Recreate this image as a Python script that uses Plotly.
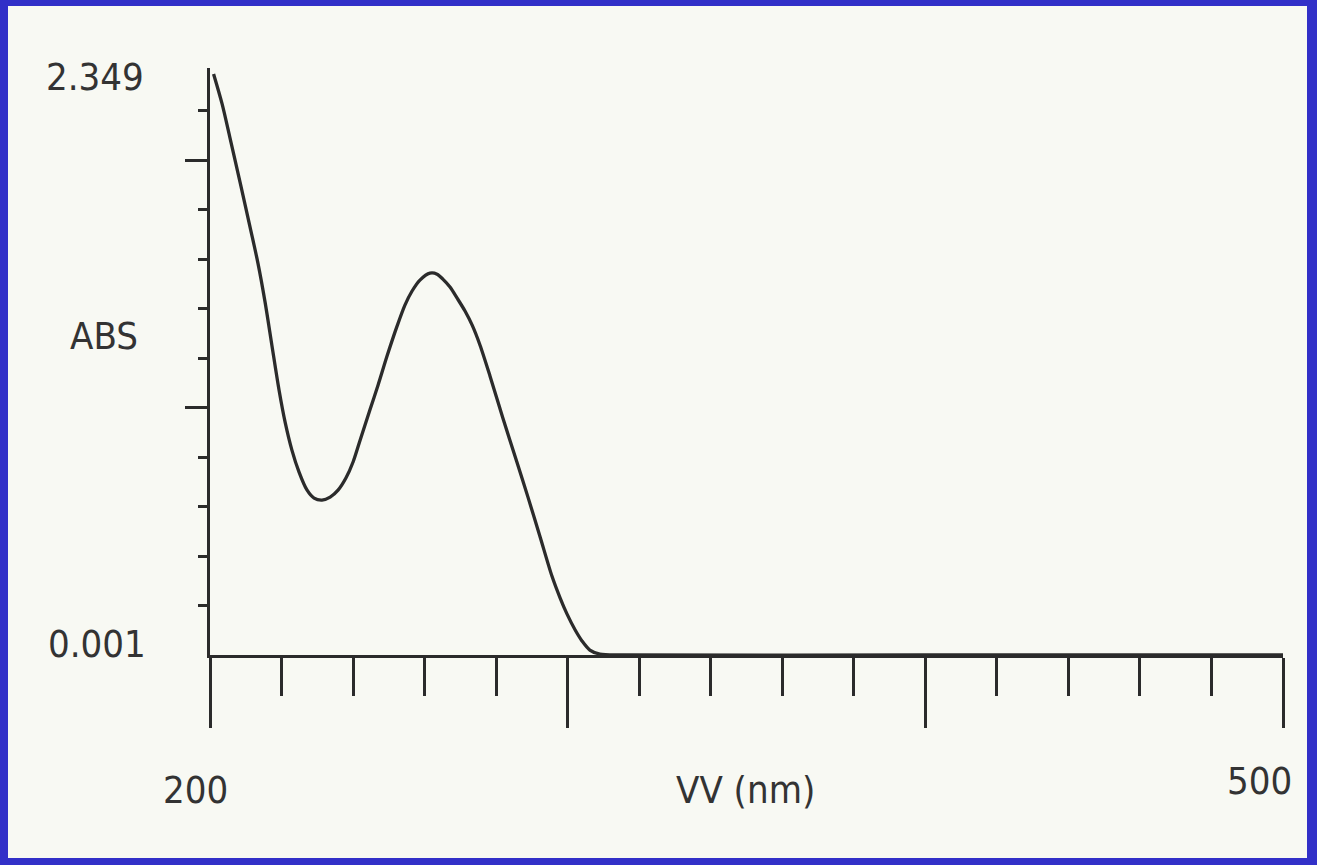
import plotly.graph_objects as go

# ---- data ----
wavelength_nm = [201.0, 203.4, 205.6, 208.4, 211.2, 213.4, 215.4, 217.3, 219.3, 221.0,
                 222.9, 224.9, 227.1, 229.1, 231.3, 233.6, 235.8, 238.0, 240.0, 241.9,
                 244.7, 247.0, 249.5, 252.3, 254.5, 256.5, 258.7, 261.5, 263.5, 265.1,
                 267.1, 269.1, 271.3, 273.3, 275.5, 278.3, 281.9, 285.8, 288.9, 292.3,
                 295.6, 297.9, 299.8, 302.1, 304.0, 306.2, 309.0, 315.0, 400.0, 500.0]
absorbance = [2.349, 2.227, 2.090, 1.912, 1.730, 1.585, 1.427, 1.253, 1.072, 0.942,
              0.829, 0.740, 0.668, 0.635, 0.627, 0.639, 0.667, 0.716, 0.781, 0.866,
              0.991, 1.092, 1.209, 1.330, 1.415, 1.472, 1.516, 1.544, 1.540, 1.520,
              1.488, 1.443, 1.391, 1.334, 1.253, 1.128, 0.958, 0.781, 0.639, 0.478,
              0.320, 0.231, 0.167, 0.102, 0.058, 0.021, 0.005, 0.001, 0.001, 0.001]

x_major_ticks = [200, 300, 400, 500]
x_minor_ticks = [220, 240, 260, 280, 320, 340, 360, 380, 420, 440, 460, 480]
y_major_ticks = [1.0, 2.0]
y_minor_ticks = [0.2, 0.4, 0.6, 0.8, 1.2, 1.4, 1.6, 1.8, 2.2]
y_min_label, y_max_label = "0.001", "2.349"
x_min_label, x_max_label = "200", "500"
x_title, y_title = "VV (nm)", "ABS"

# ---- layout geometry (pixels) ----
W, H = 1317, 865
L, R, T, B = 210, 34, 68, 210
plot_w = W - L - R
plot_h = H - T - B

def px(xp):
    return (xp - L) / plot_w

def py(yp):
    return (H - B - yp) / plot_h

ink = "#2b2b2b"
txt = "#333333"
font_family = "DejaVu Sans Condensed, Liberation Sans Narrow, sans-serif"
blue = "#3230c8"
bg = "#f8f9f3"

fig = go.Figure()
fig.add_trace(go.Scatter(
    x=wavelength_nm, y=absorbance, mode="lines",
    line=dict(color=ink, width=3.3, shape="spline", smoothing=0.8),
    hoverinfo="skip", showlegend=False, cliponaxis=False,
))

y_top = 0.001 + (2.349 - 0.001) * (655 - 68) / (655 - 74)

fig.update_xaxes(
    range=[200, 500], showgrid=False, zeroline=False,
    showline=True, linecolor=ink, linewidth=3,
    tickmode="array", tickvals=x_major_ticks, ticks="outside",
    ticklen=70, tickwidth=3, tickcolor=ink, showticklabels=False,
    minor=dict(tickmode="array", tickvals=x_minor_ticks, ticks="outside",
               ticklen=38, tickwidth=3, tickcolor=ink, showgrid=False),
)
fig.update_yaxes(
    range=[0.001, y_top], showgrid=False, zeroline=False,
    showline=True, linecolor=ink, linewidth=3,
    tickmode="array", tickvals=y_major_ticks, ticks="outside",
    ticklen=22, tickwidth=3, tickcolor=ink, showticklabels=False,
    minor=dict(tickmode="array", tickvals=y_minor_ticks, ticks="outside",
               ticklen=9, tickwidth=3, tickcolor=ink, showgrid=False),
)

shapes = []
for x0, y0, x1, y1 in [(0, 0, W, 6), (0, H - 7, W, H), (0, 0, 8, H), (W - 10, 0, W, H)]:
    shapes.append(dict(type="rect", xref="paper", yref="paper",
                       x0=px(x0), x1=px(x1), y0=py(y1), y1=py(y0),
                       fillcolor=blue, line=dict(width=0), layer="above"))

annots = []
for text, cx, cy in [(y_max_label, 95, 77), (y_min_label, 97, 644), (y_title, 104, 336),
                     (x_min_label, 195, 790), (x_max_label, 1259, 781), (x_title, 745, 790)]:
    annots.append(dict(text=text, xref="paper", yref="paper", x=px(cx), y=py(cy),
                       xanchor="center", yanchor="middle", showarrow=False,
                       font=dict(family=font_family, size=38, color=txt)))

fig.update_layout(
    width=W, height=H, margin=dict(l=L, r=R, t=T, b=B, pad=0),
    paper_bgcolor=bg, plot_bgcolor=bg,
    shapes=shapes, annotations=annots, showlegend=False,
)

fig.write_html("out.html")
